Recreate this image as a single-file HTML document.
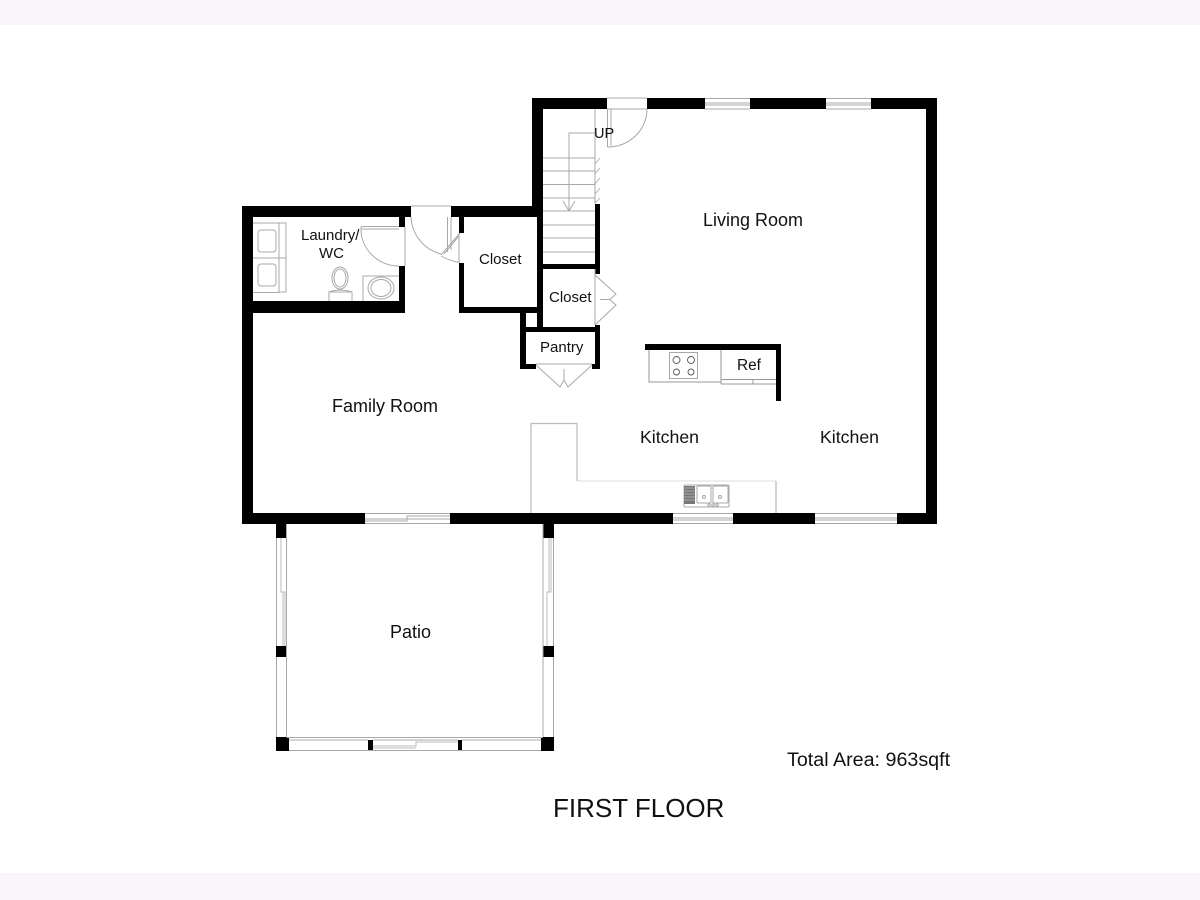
<!DOCTYPE html>
<html><head><meta charset="utf-8"><style>
html,body{margin:0;padding:0;background:#fff}
svg{display:block}
text{font-family:"Liberation Sans",sans-serif;fill:#111}
</style></head><body>
<svg width="1200" height="900" viewBox="0 0 1200 900" xmlns="http://www.w3.org/2000/svg">
<rect width="1200" height="900" fill="#fff"/>
<rect width="1200" height="25" fill="#f8f6fa"/>
<rect y="873" width="1200" height="27" fill="#f8f6fa"/>

<!-- black walls -->
<g fill="#000">
<rect x="532" y="98" width="75" height="11"/>
<rect x="647" y="98" width="58" height="11"/>
<rect x="750" y="98" width="76" height="11"/>
<rect x="871" y="98" width="66" height="11"/>
<rect x="926" y="98" width="11" height="426"/>
<rect x="242" y="513" width="123" height="11"/>
<rect x="450" y="513" width="223" height="11"/>
<rect x="733" y="513" width="82" height="11"/>
<rect x="897" y="513" width="40" height="11"/>
<rect x="242" y="206" width="11" height="318"/>
<rect x="242" y="206" width="169" height="11"/>
<rect x="451" y="206" width="92" height="11"/>
<rect x="532" y="98" width="11" height="119"/>
<rect x="242" y="301" width="163" height="12"/>
<rect x="399" y="217" width="6" height="10"/>
<rect x="399" y="266" width="6" height="46"/>
<rect x="459" y="217" width="5" height="16"/>
<rect x="459" y="263" width="5" height="49"/>
<rect x="459" y="307" width="84" height="6"/>
<rect x="537" y="217" width="6" height="110"/>
<rect x="537" y="264" width="63" height="5"/>
<rect x="595" y="204" width="5" height="70"/>
<rect x="595" y="325" width="5" height="44"/>
<rect x="520" y="327" width="80" height="5"/>
<rect x="520" y="312" width="6" height="57"/>
<rect x="520" y="364" width="16" height="5"/>
<rect x="592" y="364" width="8" height="5"/>
<rect x="645" y="344" width="136" height="6"/>
<rect x="776" y="344" width="5" height="57"/>
<!-- patio posts -->
<rect x="276" y="524" width="11" height="14"/>
<rect x="276" y="646" width="11" height="11"/>
<rect x="276" y="737" width="13" height="14"/>
<rect x="543" y="524" width="11" height="14"/>
<rect x="543" y="646" width="11" height="11"/>
<rect x="541" y="737" width="13" height="14"/>
<rect x="368" y="740" width="5" height="11"/>
<rect x="458" y="740" width="4" height="11"/>
</g>

<g fill="none" stroke="#a8a8a8" stroke-width="1">
<!-- top door -->
<path d="M607 98H647M607 109H647"/>
<path d="M607.5 109V147M607.5 147A39 38 0 0 0 647 109"/>
<path d="M611 109V146"/>
<!-- windows top -->
<path d="M705 98.500H750M705 109H750M705 103H750M705 105H750"/>
<path d="M826 98.500H871M826 109H871M826 103H871M826 105H871"/>
<!-- windows bottom -->
<path d="M673 513.500H733M673 523.500H733M673 518H733M673 520H733"/>
<path d="M815 513.500H897M815 523.500H897M815 518H897M815 520H897"/>
<!-- patio door -->
<path d="M365 513.500H450M365 523.500H450M365 519H407V516H450M365 521H407V519H450"/>
<!-- stairs -->
<path d="M595 109V204"/>
<path d="M543 158H595M543 171H595M543 184.500H595M543 198H595M543 211H595M543 225H595M543 238H595M543 252H595"/>
<path d="M595 133H569V211M563 201L569 211L575 201"/>
<path d="M595 164L600 158M595 174L600 168M595 184L600 178M595 194L600 188M595 203L600 198" stroke-width=".8"/>
<!-- closet door 2 -->
<path d="M595 269V325"/>
<path d="M595 275L616 294L610 299.500H600M595 325L616 305L610 300"/>
<!-- pantry doors -->
<path d="M536 364H592"/>
<path d="M536 365L560 387L564 380V369M592 365L568 387L564 380"/>
<!-- upper hall door -->
<path d="M411 206H451"/>
<path d="M411 217A40 40 0 0 0 441 254"/>
<path d="M447.500 217V252M451 217V250"/>
<path d="M460 233L441 255M459 236L444 254"/>
<path d="M441 256Q450 261 459 262.500"/>
<path d="M459 233V263"/>
<!-- laundry door -->
<path d="M361 226.500H399M361 229H399M361 227L361 229"/>
<path d="M361 229A38 37 0 0 0 399 266"/>
<path d="M405 227V266"/>
<!-- washer dryer -->
<path d="M253 223H279V292.500H253M279 223H286V292H279M253 258H286"/>
<rect x="258" y="230" width="18" height="22" rx="3"/>
<rect x="258" y="264" width="18" height="22" rx="3"/>
<!-- toilet -->
<ellipse cx="340" cy="278" rx="8" ry="11"/>
<ellipse cx="340" cy="278" rx="6" ry="9"/>
<path d="M329 301V292H352V301M329 292Q340 288 352 292"/>
<!-- wc sink -->
<path d="M363 301V276H399"/>
<ellipse cx="381" cy="288" rx="13" ry="11"/>
<ellipse cx="381" cy="288" rx="10" ry="8.500"/>
<!-- kitchen cabinets -->
<path d="M649 350V382H721" stroke="#999"/>
<path d="M721 350V384" stroke="#999"/>
<path d="M721 379.500H776M721 384H776M753 380V384" stroke="#999"/>
<rect x="669.500" y="352.500" width="28" height="26"/>
<g stroke="#555" stroke-width=".9">
<circle cx="676.500" cy="360" r="3.500"/><circle cx="691" cy="360" r="3.500"/>
<circle cx="676.500" cy="372" r="3"/><circle cx="691" cy="372" r="3"/>
</g>
<!-- counter -->
<path d="M531 513V423.500H577V481" stroke="#bbb" stroke-width="1.200"/>
<path d="M577 481H776" stroke="#ddd"/>
<path d="M776 481V513" stroke="#aaa"/>
<!-- sink -->
<rect x="684" y="485" width="45" height="22" rx="1"/>
<rect x="697" y="486" width="14" height="17" rx="1"/>
<rect x="713" y="486" width="15" height="17" rx="1"/>
<circle cx="704" cy="497" r="1.500"/><circle cx="720" cy="497" r="1.500"/>
<circle cx="709" cy="505" r="1.200"/><circle cx="713" cy="505" r="1.200"/><circle cx="717" cy="505" r="1.200"/>
<!-- patio frame -->
<path d="M276.500 538V646M276.500 657V737M286.500 524V737M286.500 737.500H543M543 524V737"/>
<path d="M553.500 538V646M553.500 657V737"/>
<path d="M281 538V592H283V646M283 592H285V646" stroke="#bbb"/>
<path d="M549 538V592H547V646M551 538V592H549" stroke="#bbb"/>
<path d="M289 750.500H541M289 740H368M373 740H458M462 740H541"/>
<path d="M373 746H416V742H458M373 748H416" stroke="#bbb"/>
</g>
<rect x="684" y="486" width="11" height="18" fill="#777"/>
<path d="M684 488H695M684 491H695M684 494H695M684 497H695M684 500H695" stroke="#bbb" stroke-width=".7"/>

<!-- labels -->
<text x="703" y="226" font-size="18">Living Room</text>
<text x="332" y="412" font-size="18">Family Room</text>
<text x="640" y="443" font-size="17.700">Kitchen</text>
<text x="820" y="443" font-size="17.700">Kitchen</text>
<text x="390" y="638" font-size="18">Patio</text>
<text x="301" y="240" font-size="15">Laundry/</text>
<text x="319" y="258" font-size="15">WC</text>
<text x="479" y="264" font-size="15">Closet</text>
<text x="549" y="302" font-size="15">Closet</text>
<text x="540" y="352" font-size="15">Pantry</text>
<text x="737" y="370" font-size="15.400">Ref</text>
<text x="594" y="138" font-size="14.500">UP</text>
<text x="787" y="766" font-size="19.700">Total Area: 963sqft</text>
<text x="553" y="817" font-size="26">FIRST FLOOR</text>
</svg>
</body></html>
